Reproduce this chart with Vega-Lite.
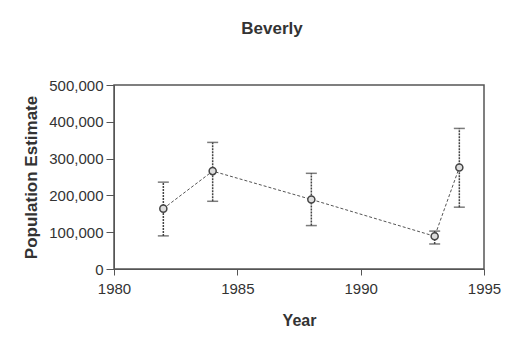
{
  "$schema": "https://vega.github.io/schema/vega-lite/v6.json",
  "width": 370,
  "height": 184,
  "autosize": "none",
  "padding": {"left": 114, "top": 85, "right": 37, "bottom": 70},
  "background": "white",
  "title": {"text": "Beverly", "fontSize": 17, "font": "Liberation Sans", "fontWeight": "bold", "color": "#333333", "dx": -27, "offset": 40},
  "config": {
    "font": "Liberation Sans",
    "view": {"stroke": "#555555", "strokeWidth": 1.5},
    "axis": {"grid": false, "labelFont": "Liberation Sans", "titleFont": "Liberation Sans", "labelColor": "#333333", "titleColor": "#333333", "tickColor": "#555555", "domainColor": "#555555", "labelFontSize": 15, "titleFontSize": 16, "titleFontWeight": "bold", "tickSize": 6, "labelFlush": false}
  },
  "data": {"values": [
    {"year": 1982, "est": 164000, "lo": 90000, "hi": 236000},
    {"year": 1984, "est": 266000, "lo": 184000, "hi": 344000},
    {"year": 1988, "est": 189000, "lo": 118000, "hi": 260000},
    {"year": 1993, "est": 89000, "lo": 68000, "hi": 103000},
    {"year": 1994, "est": 276000, "lo": 168000, "hi": 382000}
  ]},
  "encoding": {
    "x": {"field": "year", "type": "quantitative", "scale": {"domain": [1980, 1995], "nice": false, "zero": false}, "axis": {"values": [1980, 1985, 1990, 1995], "format": "d", "title": "Year", "labelPadding": 6, "titlePadding": 16}}
  },
  "layer": [
    {"mark": {"type": "rule", "color": "#444444", "strokeWidth": 1.5, "strokeDash": [2, 1]},
     "encoding": {"y": {"field": "lo", "type": "quantitative", "scale": {"domain": [0, 500000], "nice": false}, "axis": {"values": [0, 100000, 200000, 300000, 400000, 500000], "format": ",d", "title": "Population Estimate", "titleFontSize": 17, "tickSize": 8, "labelPadding": 3, "titlePadding": 8}}, "y2": {"field": "hi"}}},
    {"mark": {"type": "tick", "orient": "horizontal", "color": "#444444", "size": 11, "thickness": 1.5},
     "encoding": {"y": {"field": "lo", "type": "quantitative", "scale": {"domain": [0, 500000], "nice": false}, "axis": {"values": [0, 100000, 200000, 300000, 400000, 500000], "format": ",d", "title": "Population Estimate", "titleFontSize": 17, "tickSize": 8, "labelPadding": 3, "titlePadding": 8}}}},
    {"mark": {"type": "tick", "orient": "horizontal", "color": "#444444", "size": 11, "thickness": 1.5},
     "encoding": {"y": {"field": "hi", "type": "quantitative", "scale": {"domain": [0, 500000], "nice": false}, "axis": {"values": [0, 100000, 200000, 300000, 400000, 500000], "format": ",d", "title": "Population Estimate", "titleFontSize": 17, "tickSize": 8, "labelPadding": 3, "titlePadding": 8}}}},
    {"mark": {"type": "line", "color": "#555555", "strokeWidth": 1, "strokeDash": [3, 2]},
     "encoding": {"y": {"field": "est", "type": "quantitative", "scale": {"domain": [0, 500000], "nice": false}, "axis": {"values": [0, 100000, 200000, 300000, 400000, 500000], "format": ",d", "title": "Population Estimate", "titleFontSize": 17, "tickSize": 8, "labelPadding": 3, "titlePadding": 8}}}},
    {"mark": {"type": "point", "shape": "circle", "filled": true, "fill": "#dddddd", "stroke": "#444444", "strokeWidth": 1.5, "size": 50, "opacity": 1},
     "encoding": {"y": {"field": "est", "type": "quantitative", "scale": {"domain": [0, 500000], "nice": false}, "axis": {"values": [0, 100000, 200000, 300000, 400000, 500000], "format": ",d", "title": "Population Estimate", "titleFontSize": 17, "tickSize": 8, "labelPadding": 3, "titlePadding": 8}}}}
  ]
}
